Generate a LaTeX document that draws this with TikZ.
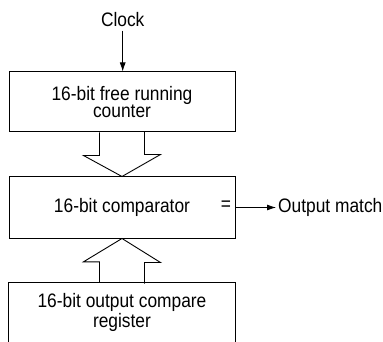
\documentclass[tikz,border=0pt]{standalone}
\usepackage{fontspec}
\setmainfont{Liberation Sans}[FakeStretch=0.89]
\usetikzlibrary{arrows.meta}

\begin{document}
\begin{tikzpicture}[x=1pt,y=-1pt,>={Latex[length=9pt,width=6pt]},
    font=\fontsize{19.5}{15}\selectfont,
    block/.style={minimum width=226pt,inner sep=0pt,align=center},
    wide/.style={line width=1pt}]
      \useasboundingbox (0,0) rectangle (383,342);
      % clock input
      \node (clock) at (122.7,20) {Clock};
      % the three blocks
      \node [block,draw,wide,minimum height=60pt] (counter) at (122,102) {16-bit free running\\counter};
      \node [block,draw,wide,minimum height=61pt] (comparator) at (122,207.5) {16-bit comparator};
      \node [block,minimum height=59pt] (register) at (122,312.5) {16-bit output compare\\register};
      % register box is cut off at the bottom
      \draw [wide] (register.south west) -- (register.north west) -- (register.north east) -- (register.south east);
      % equal sign and output
      \node (eq) at (226,206) {=};
      \node [anchor=west,inner sep=2pt] (match) at (276,207.5) {Output match};
      \draw [->,line width=0.8pt] (clock.south) -- (clock.south |- counter.north);
      \draw [->,line width=0.8pt] (comparator.east) -- (comparator.east -| match.west);
      % hollow arrow counter -> comparator
      \draw [line width=0.9pt] (counter.south) ++(-22.5,0) -- ++(0,23) -- ++(-16,0) -- (comparator.north) -- ++(38.5,-22) -- ++(-16,0) -- ++(0,-23);
      % hollow arrow register -> comparator
      \draw [line width=0.9pt] (register.north) ++(-22.5,0) -- ++(0,-21) -- ++(-16,0) -- (comparator.south) -- ++(38.5,24) -- ++(-16,0) -- ++(0,21);
    \end{tikzpicture}
\end{document}
